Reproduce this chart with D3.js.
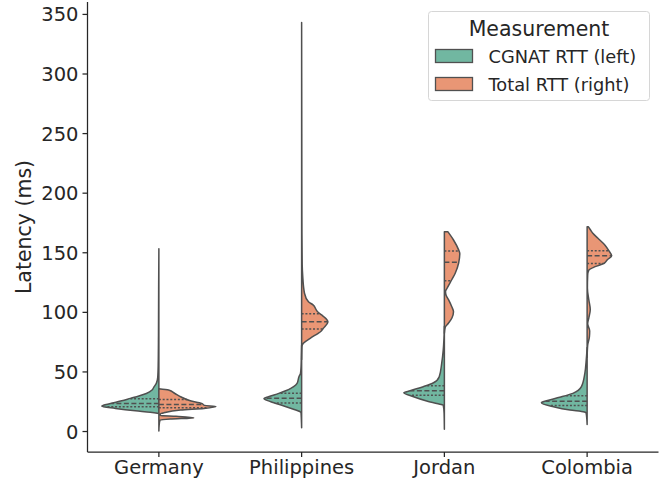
<!DOCTYPE html>
<html>
<head>
<meta charset="utf-8">
<script src="https://cdn.jsdelivr.net/npm/d3@7"></script>
<style>
  html, body { margin: 0; padding: 0; background: #fff; }
  svg { display: block; font-family: "DejaVu Sans", sans-serif; }
</style>
</head>
<body>
<svg id="chart" width="663" height="480"></svg>
<script>
// Countries on the x axis
const countries = ["Germany", "Philippines", "Jordan", "Colombia"];

// Legend / half labels
const measurements = ["CGNAT RTT (left)", "Total RTT (right)"];

// Y axis ticks (ms)
const yTicks = [0, 50, 100, 150, 200, 250, 300, 350];

// Kernel density profiles: [latency (ms), relative density], 1 = widest half
const cgnatDensity = {
  Germany: [[153, 0], [120, 0.004], [80, 0.007], [55, 0.012], [45, 0.02], [40, 0.045], [36.7, 0.09],
            [34.4, 0.12], [31.5, 0.22], [29.4, 0.35], [27.4, 0.5], [25.4, 0.65], [22.7, 0.88],
            [20.8, 1.0], [19, 0.76], [17, 0.41], [15.8, 0.15], [14.8, 0]],
  Philippines: [[72, 0], [62, 0.005], [54, 0.01], [48.4, 0.02], [45.6, 0.047], [40, 0.08], [37.2, 0.14],
                [35.8, 0.19], [31.6, 0.4], [28.8, 0.58], [27.2, 0.66], [24.6, 0.54], [21, 0.31], [18, 0.13],
                [16, 0.02], [15, 0.01], [10, 0.005], [2.8, 0]],
  Jordan: [[88, 0], [68, 0.02], [56.8, 0.047], [45.6, 0.09], [40.5, 0.19], [37.2, 0.37], [33.8, 0.6],
           [32.1, 0.71], [28.8, 0.54], [25.2, 0.31], [22.5, 0.08], [21.8, 0.02], [15, 0.005], [1.4, 0]],
  Colombia: [[70, 0], [60, 0.015], [48.4, 0.04], [37.2, 0.1], [31.6, 0.25], [28.3, 0.48], [25.4, 0.71],
             [23.8, 0.8], [20.4, 0.59], [17.6, 0.3], [16, 0.05], [15.5, 0.02], [10, 0.005], [5.5, 0]]
};

const totalDensity = {
  Germany: [[35.5, 0], [34.4, 0.17], [31.5, 0.28], [28.8, 0.38], [25.4, 0.55], [23.2, 0.75], [21.5, 0.8],
            [20.5, 1.0], [19, 0.79], [17.6, 0.38], [15.5, 0.1], [14.2, 0.02], [13, 0.03], [12.3, 0.3],
            [11, 0.61], [10, 0.2], [9, 0.02], [5, 0.005], [0, 0]],
  Philippines: [[342.7, 0], [250, 0.003], [180, 0.005], [140, 0.01], [129.5, 0.02], [115.6, 0.05],
                [108.5, 0.12], [105.8, 0.2], [100.1, 0.28], [97.4, 0.35], [95.9, 0.39], [91.7, 0.46],
                [86.2, 0.38], [83.3, 0.33], [82, 0.29], [77.8, 0.15], [73.6, 0.03], [70.8, 0.005], [60, 0]],
  Jordan: [[167.3, 0.06], [160.3, 0.16], [152, 0.25], [149, 0.27], [141, 0.25], [132.4, 0.19],
           [125.3, 0.11], [120, 0.05], [117, 0.02], [114, 0.03], [110.5, 0.07], [104.3, 0.13],
           [100.1, 0.16], [94.6, 0.13], [90.4, 0.07], [87, 0.015], [82, 0]],
  Colombia: [[171.5, 0.02], [168.7, 0.06], [165.9, 0.1], [161.7, 0.19], [156.1, 0.31], [151.3, 0.38],
             [147, 0.43], [143.5, 0.35], [140.8, 0.3], [137.9, 0.14], [135, 0.03], [131, 0.01],
             [120, 0.005], [110, 0.03], [102, 0.055], [95, 0.03], [90, 0.01], [84, 0.045], [79, 0.04],
             [72, 0.01], [62, 0]]
};

// Quartiles [Q1, median, Q3] (ms)
const cgnatQuartiles = {
  Germany: [20.3, 23.2, 27], Philippines: [23.6, 27.4, 31.6],
  Jordan: [30.1, 33.8, 38], Colombia: [21.5, 25, 29.5]
};
const totalQuartiles = {
  Germany: [19.5, 22.3, 26.5], Philippines: [85.6, 91.7, 98.5],
  Jordan: [126, 141.6, 151], Colombia: [140.5, 147, 151.3]
};

// ---- drawing ----
const plot = { left: 87.5, right: 658.5, top: 2, bottom: 452 };
const fills = ["#71b7a1", "#e99675"];
const edge = "#505050";
const textColor = "#262626";

const svg = d3.select("#chart");

const x = d3.scaleBand().domain(countries).range([plot.left, plot.right]).padding(0);
const y = d3.scaleLinear().domain([-17.6, 360]).range([plot.bottom, plot.top]);
const halfWidth = d3.scaleLinear().domain([0, 1]).range([0, x.bandwidth() * 0.4]);

function densityAt(profile, v) {
  for (let i = 0; i < profile.length - 1; i++) {
    const a = profile[i], b = profile[i + 1];
    if (v <= a[0] && v >= b[0]) {
      const t = (a[0] - v) / (a[0] - b[0]);
      return a[1] + t * (b[1] - a[1]);
    }
  }
  return 0;
}

const halves = [
  { density: cgnatDensity, quart: cgnatQuartiles, side: -1, fill: fills[0] },
  { density: totalDensity, quart: totalQuartiles, side: 1, fill: fills[1] }
];

const violins = svg.append("g");

countries.forEach(c => {
  const cx = x(c) + x.bandwidth() / 2;
  halves.forEach(h => {
    const prof = h.density[c];
    const area = d3.area()
      .curve(d3.curveMonotoneY)
      .y(d => y(d[0]))
      .x0(cx)
      .x1(d => cx + h.side * halfWidth(d[1]));
    violins.append("path")
      .attr("d", area(prof))
      .attr("fill", h.fill)
      .attr("stroke", edge)
      .attr("stroke-width", 1.5)
      .attr("stroke-linejoin", "round");

    h.quart[c].forEach((q, i) => {
      const w = halfWidth(densityAt(prof, q)) * 0.99;
      violins.append("line")
        .attr("x1", cx).attr("x2", cx + h.side * w)
        .attr("y1", y(q)).attr("y2", y(q))
        .attr("stroke", edge)
        .attr("stroke-width", 1.5)
        .attr("stroke-dasharray", i === 1 ? "5,2.5" : "2,1.8");
    });
  });
});

// Axes
const yAxis = d3.axisLeft(y).tickValues(yTicks).tickSize(5).tickPadding(4);
const gy = svg.append("g").attr("transform", `translate(${plot.left},0)`).call(yAxis);
gy.select(".domain").attr("d", `M0,${plot.top}V${plot.bottom}`);

const xAxis = d3.axisBottom(x).tickSize(5).tickPadding(3);
const gx = svg.append("g").attr("transform", `translate(0,${plot.bottom})`).call(xAxis);
gx.select(".domain").attr("d", `M${plot.left},0H${plot.right}`);

[gx, gy].forEach(g => {
  g.select(".domain").attr("stroke", textColor).attr("stroke-width", 1.25);
  g.selectAll(".tick line").attr("stroke", textColor).attr("stroke-width", 1.25);
  g.selectAll(".tick text")
    .attr("fill", textColor)
    .style("font-family", "DejaVu Sans, sans-serif")
    .style("font-size", "19.5px");
});
gy.selectAll(".tick text").attr("dy", "0.36em");
gx.selectAll(".tick text").attr("dy", "0.71em");

// Y label
svg.append("text")
  .attr("transform", `translate(31,${(plot.top + plot.bottom) / 2}) rotate(-90)`)
  .attr("text-anchor", "middle")
  .attr("fill", textColor)
  .style("font-size", "20.5px")
  .text("Latency (ms)");

// Legend
const lg = svg.append("g");
lg.append("rect")
  .attr("x", 428.5).attr("y", 11.5).attr("width", 221).attr("height", 89)
  .attr("rx", 3).attr("fill", "#fff").attr("fill-opacity", 0.8)
  .attr("stroke", "#d6d6d6").attr("stroke-width", 1);
lg.append("text")
  .attr("x", 539).attr("y", 35.5).attr("text-anchor", "middle")
  .attr("fill", textColor).style("font-size", "20.5px")
  .text("Measurement");
measurements.forEach((m, i) => {
  const ry = 49.5 + i * 28;
  lg.append("rect")
    .attr("x", 435.5).attr("y", ry).attr("width", 37).attr("height", 13)
    .attr("fill", fills[i]).attr("stroke", edge).attr("stroke-width", 1.3);
  lg.append("text")
    .attr("x", 488.5).attr("y", ry + 13.5)
    .attr("fill", textColor).style("font-size", "17.8px")
    .text(m);
});
</script>
</body>
</html>
